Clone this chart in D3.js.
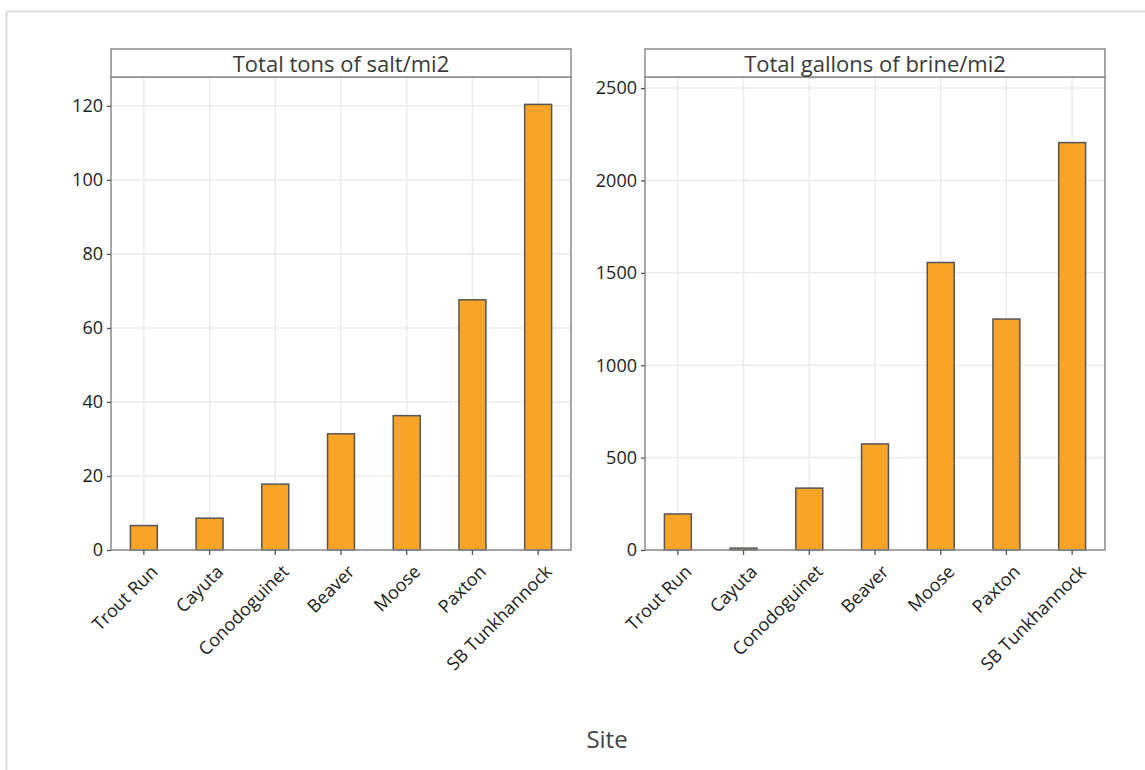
<!DOCTYPE html>
<html>
<head>
<meta charset="utf-8">
<script src="https://cdn.jsdelivr.net/npm/d3@7"></script>
<style>
  body { margin: 0; background: #fff; }
  svg text { font-family: "Open Sans", "Noto Sans", sans-serif; }
</style>
</head>
<body>
<svg id="chart" width="1145" height="770"></svg>
<script>
const sites = ["Trout Run", "Cayuta", "Conodoguinet", "Beaver", "Moose", "Paxton", "SB Tunkhannock"];
const saltTons = [6.6, 8.6, 17.8, 31.4, 36.3, 67.6, 120.4];
const brineGallons = [195, 10, 335, 574, 1556, 1250, 2205];
const saltTicks = [0, 20, 40, 60, 80, 100, 120];
const brineTicks = [0, 500, 1000, 1500, 2000, 2500];

const panels = [
  { title: "Total tons of salt/mi2", values: saltTons, ticks: saltTicks, max: 127.8, left: 111 },
  { title: "Total gallons of brine/mi2", values: brineGallons, ticks: brineTicks, max: 2560, left: 645 }
];

const svg = d3.select("#chart");
const pw = 460, plotTop = 77, plotBottom = 550, stripTop = 49;

// faint frame of the screenshot
svg.append("path")
  .attr("d", "M6.5,770 V11.5 H1145")
  .attr("fill", "none").attr("stroke", "#dcdcdc").attr("stroke-width", 2);

panels.forEach(p => {
  const g = svg.append("g").attr("transform", `translate(${p.left},0)`);
  const x = d3.scaleBand().domain(sites).range([0, pw]).paddingInner(0.59).paddingOuter(0.295);
  const y = d3.scaleLinear().domain([0, p.max]).range([plotBottom, plotTop]);

  // grid
  g.selectAll(".hg").data(p.ticks).join("line")
    .attr("x1", 0).attr("x2", pw)
    .attr("y1", d => y(d)).attr("y2", d => y(d))
    .attr("stroke", "#ebebeb").attr("stroke-width", 1.5);
  g.selectAll(".vg").data(sites).join("line")
    .attr("x1", d => x(d) + x.bandwidth() / 2).attr("x2", d => x(d) + x.bandwidth() / 2)
    .attr("y1", plotTop).attr("y2", plotBottom)
    .attr("stroke", "#ebebeb").attr("stroke-width", 1.5);

  // bars
  g.selectAll(".bar").data(sites).join("rect")
    .attr("x", d => x(d))
    .attr("width", x.bandwidth())
    .attr("y", (d, i) => y(p.values[i]))
    .attr("height", (d, i) => y(0) - y(p.values[i]))
    .attr("fill", "#f7a428")
    .attr("stroke", "#555").attr("stroke-width", 1.5);

  // panel border and strip
  g.append("rect").attr("x", 0).attr("y", plotTop).attr("width", pw).attr("height", plotBottom - plotTop)
    .attr("fill", "none").attr("stroke", "#8a8a8a").attr("stroke-width", 1.5);
  g.append("rect").attr("x", 0).attr("y", stripTop).attr("width", pw).attr("height", plotTop - stripTop)
    .attr("fill", "#fff").attr("stroke", "#8a8a8a").attr("stroke-width", 1.5);
  g.append("text").attr("x", pw / 2).attr("y", plotTop - 5)
    .attr("text-anchor", "middle").attr("font-size", 22).attr("fill", "#3a3a3a")
    .text(p.title);

  // y axis
  const ya = g.append("g").call(d3.axisLeft(y).tickValues(p.ticks).tickFormat(d3.format("d")).tickSize(4).tickPadding(4));
  ya.select(".domain").remove();
  ya.selectAll("line").attr("stroke", "#555").attr("stroke-width", 1.3);
  ya.selectAll("text").attr("font-size", 18).attr("fill", "#222")
    .style("font-family", "'Open Sans', 'Noto Sans', sans-serif");

  // x axis
  const xa = g.append("g").attr("transform", `translate(0,${plotBottom})`)
    .call(d3.axisBottom(x).tickSize(5).tickPadding(4));
  xa.select(".domain").remove();
  xa.selectAll("line").attr("stroke", "#555").attr("stroke-width", 1.3);
  xa.selectAll("text").attr("font-size", 18).attr("fill", "#222")
    .style("font-family", "'Open Sans', 'Noto Sans', sans-serif")
    .attr("text-anchor", "end")
    .attr("dy", "0.35em")
    .attr("transform", "translate(4,12) rotate(-45)");
});

svg.append("text").attr("x", 607).attr("y", 748)
  .attr("text-anchor", "middle").attr("font-size", 24).attr("fill", "#444")
  .text("Site");
</script>
</body>
</html>
